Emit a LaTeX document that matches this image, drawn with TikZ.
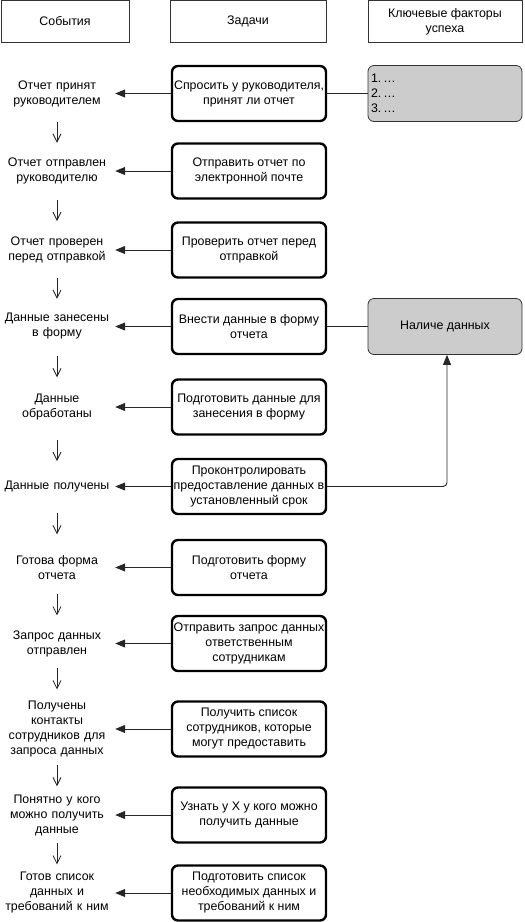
\documentclass[tikz,border=0pt]{standalone}
\usepackage{fontspec}
\setmainfont{Liberation Sans}
\usetikzlibrary{arrows.meta,calc}
\begin{document}
\begin{tikzpicture}[x=1pt,y=-1pt,
  font=\fontsize{12.4}{15}\selectfont,
  hdr/.style={draw=black!80, line width=0.9pt, minimum height=42, align=center, inner sep=2pt},
  task/.style={draw=black, line width=2.4pt, rounded corners=6pt, minimum width=154, minimum height=55, align=center, inner sep=1pt},
  kfs/.style={draw=black!80, line width=0.8pt, fill=gray!40, rounded corners=6pt, minimum width=154, minimum height=56, inner sep=3pt},
  ev/.style={align=center, text width=116, inner sep=0pt},
  tolft/.style={draw=black!85, line width=0.9pt, -{Triangle[length=10pt,width=8pt]}},
  dnarr/.style={draw=black!85, line width=0.8pt, -{Straight Barb[length=8pt,width=8pt]}},
  link/.style={draw=black!85, line width=0.9pt}
]
\useasboundingbox (0,0) rectangle (525,922);

% headers
\node[hdr, minimum width=128] (h1) at (65,21.5) {События};
\node[hdr, minimum width=156] (h2) at (248,21.5) {Задачи};
\node[hdr, minimum width=154] (h3) at (445,21.5) {Ключевые факторы\\успеха};

% tasks
\node[task] (t1)  at (249,93.5)  {Спросить у руководителя,\\принят ли отчет};
\node[task] (t2)  at (249,171)   {Отправить отчет по\\электронной почте};
\node[task] (t3)  at (249,250)   {Проверить отчет перед\\отправкой};
\node[task] (t4)  at (249,326.5) {Внести данные в форму\\отчета};
\node[task] (t5)  at (249,407)   {Подготовить данные для\\занесения в форму};
\node[task] (t6)  at (249,486.5) {Проконтролировать\\предоставление данных в\\установленный срок};
\node[task] (t7)  at (249,567.5) {Подготовить форму\\отчета};
\node[task] (t8)  at (249,643.5) {Отправить запрос данных\\ответственным\\сотрудникам};
\node[task] (t9)  at (249,729)   {Получить список\\сотрудников, которые\\могут предоставить};
\node[task] (t10) at (249,815)   {Узнать у Х у кого можно\\получить данные};
\node[task] (t11) at (249,893)   {Подготовить список\\необходимых данных и\\требований к ним};

% events
\node[ev] (e1)  at (57,93.5)  {Отчет принят\\руководителем};
\node[ev] (e2)  at (57,171)   {Отчет отправлен\\руководителю};
\node[ev] (e3)  at (57,250)   {Отчет проверен\\перед отправкой};
\node[ev] (e4)  at (57,326.5) {Данные занесены\\в форму};
\node[ev] (e5)  at (57,407)   {Данные\\обработаны};
\node[ev] (e6)  at (57,486.5) {Данные получены};
\node[ev] (e7)  at (57,567.5) {Готова форма\\отчета};
\node[ev] (e8)  at (57,643.5) {Запрос данных\\отправлен};
\node[ev] (e9)  at (57,729)   {Получены\\контакты\\сотрудников для\\запроса данных};
\node[ev] (e10) at (57,815)   {Понятно у кого\\можно получить\\данные};
\node[ev] (e11) at (57,893)   {Готов список\\данных и\\требований к ним};

% key success factors
\node[kfs, text width=148, align=left] (k1) at (445,93.5) {1.\,…\\2.\,…\\3.\,…};
\node[kfs, align=center] (k2) at (445,326.5) {Наличе данных};

% task -> event arrows
\foreach \i in {1,...,11}
  \draw[tolft] (t\i.west) -- (t\i.west -| e\i.east);

% event chain arrows
\foreach \a/\b in {1/2,2/3,3/4,4/5,5/6,6/7,7/8,8/9,9/10,10/11}
  \draw[dnarr] ($(e\a.south)!0.5!(e\b.north)+(0,-10.5)$) -- ++(0,21);

% links to key factors
\draw[link] (t1.east) -- (t1.east -| k1.west);
\draw[link] (t4.east) -- (t4.east -| k2.west);
\draw[link, rounded corners=4pt, -{Triangle[length=10pt,width=8pt]}] (t6.east) -| ([xshift=2pt]k2.south);
\end{tikzpicture}
\end{document}
